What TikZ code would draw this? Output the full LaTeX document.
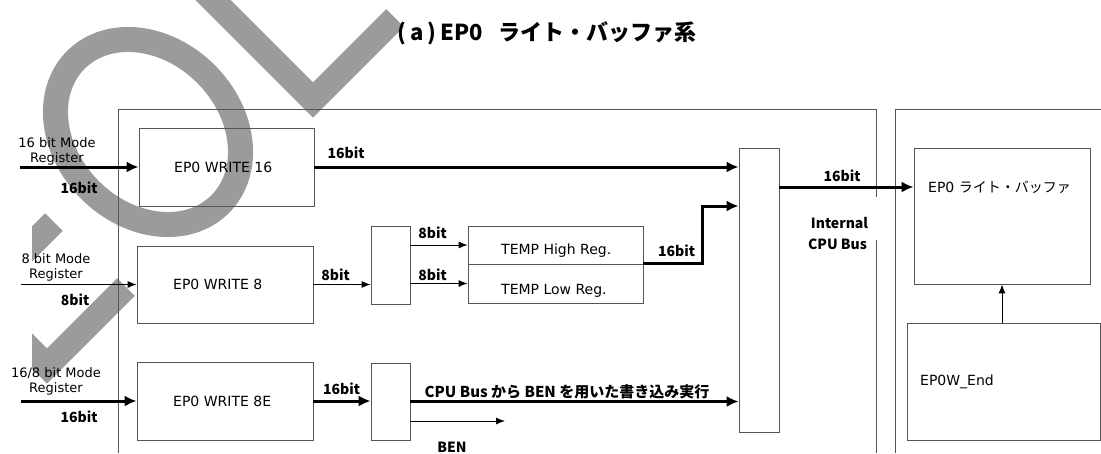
\documentclass[tikz,border=0pt]{standalone}
\usepackage{fontspec}
\setmainfont{Noto Sans CJK JP}
\newfontfamily\lat{DejaVu Sans}
\usetikzlibrary{arrows.meta,calc}
\definecolor{wmgray}{RGB}{155,155,155}
\definecolor{framegray}{RGB}{85,85,85}
\tikzset{
  box/.style={draw=framegray, line width=0.8pt, inner sep=0pt},
  arrthin/.style={line width=0.9pt, -{Latex[length=9pt,width=7pt]}},
  arrthick/.style={line width=3pt, -{Latex[length=12pt,width=11pt]}},
  lbl/.style={font=\bfseries\fontsize{14}{14}\selectfont, inner sep=0pt},
  txt/.style={font=\lat\fontsize{14}{16}\selectfont, inner sep=0pt},
  modetxt/.style={font=\lat\fontsize{13}{15}\selectfont, inner sep=0pt, align=center},
  frame/.style={draw=framegray, line width=0.8pt},
  wm/.style={draw=wmgray, line width=25pt},
}
\begin{document}
\begin{tikzpicture}[x=1pt,y=-1pt]
\useasboundingbox (0,0) rectangle (1101,453);
% watermark
\begin{scope}
  \clip (32,0) rectangle (1101,453);
  \draw[wm, rotate around={-45:(148,132)}] (148,132) ellipse [x radius=102pt, y radius=82pt];
  \draw[wm, miter limit=10] (200,-13) -- (313,100) -- (395,18);
  \draw[wm] (54,222) -- (20,256);
  \draw[wm, miter limit=10] (15,334) -- (47,366) -- (126,287);
\end{scope}
% title
\node[font=\bfseries\fontsize{22}{22}\selectfont, inner sep=0pt] (title) at (547,33)
  {(\hspace{4pt}a\hspace{4pt})\hspace{4pt}EP0\hspace{16pt}ライト・バッファ系};
% outer frames
\draw[frame] (118,453) -- (118,109) -- (876,109) -- (876,197);
\draw[frame] (876,240) -- (876,453);
\draw[frame] (895,453) -- (895,109) -- (1101,109);
% boxes
\node[box, minimum width=175pt, minimum height=78pt] (w16) at (226.5,167) {};
\node[box, minimum width=176pt, minimum height=77pt] (w8) at (225,284.5) {};
\node[box, minimum width=176pt, minimum height=78pt] (w8e) at (225,401) {};
\node[box, minimum width=39pt, minimum height=78pt] (s8) at (390.5,265) {};
\node[box, minimum width=39pt, minimum height=77pt] (s8e) at (390.5,401.5) {};
\node[box, minimum width=175pt, minimum height=38pt] (th) at (555.5,245) {};
\node[box, minimum width=175pt, minimum height=39pt] (tl) at (555.5,283.5) {};
\node[box, minimum width=40pt, minimum height=284pt] (mux) at (759,290) {};
\node[box, minimum width=176pt, minimum height=136pt] (buf) at (1002,216) {};
\node[box, minimum width=193pt, minimum height=117pt] (endb) at (1003.5,381.5) {};
% box texts
\node[txt, anchor=west] (tw16) at (174,167) {EP0 WRITE 16};
\node[txt, anchor=west] (tw8) at (173,284.5) {EP0 WRITE 8};
\node[txt, anchor=west] (tw8e) at (173,401) {EP0 WRITE 8E};
\node[txt, anchor=west] (tth) at (501,251) {TEMP High Reg.};
\node[txt, anchor=west] (ttl) at (501,291) {TEMP Low Reg.};
\node[txt, anchor=west] (tbuf) at (928,187) {EP0 {\rmfamily ライト・バッファ}};
\node[txt, anchor=west] (tend) at (920,382) {EP0W\_End};
% mode labels
\node[modetxt] (m16) at (57,151.5) {16 bit Mode\\Register};
\node[modetxt] (m8) at (56,267) {8 bit Mode\\Register};
\node[modetxt] (m8e) at (56,381) {16/8 bit Mode\\Register};
% input coordinates
\coordinate (in16) at (20,167);
\coordinate (in8) at (21,284.5);
\coordinate (in8e) at (21,401);
\coordinate (bend) at (702,206);
\coordinate (benend) at (505,421);
% connectors
\draw[arrthick] (in16) -- (w16.west);
\draw[arrthin] (in8) -- (w8.west);
\draw[arrthick] (in8e) -- (w8e.west);
\draw[arrthick] (w16.east) -- (w16.east -| mux.west);
\draw[arrthin] (w8.east) -- (w8.east -| s8.west);
\draw[arrthin] (s8.east |- th.west) -- (th.west);
\draw[arrthin] (s8.east |- tl.west) -- (tl.west);
\draw[arrthick] (tl.north east) -| (bend) -- (bend -| mux.west);
\draw[arrthick] (w8e.east) -- (w8e.east -| s8e.west);
\draw[arrthick] (s8e.east) -- (s8e.east -| mux.west);
\draw[arrthin] (s8e.east |- benend) -- (benend);
\draw[arrthick] (mux.east |- 0,187) -- (buf.west |- 0,187);
\draw[arrthin] (buf.south |- endb.north) -- (buf.south);
% bit labels
\node[lbl] (l1) at (79,188) {16bit};
\node[lbl] (l2) at (75,300) {8bit};
\node[lbl] (l3) at (79,417) {16bit};
\node[lbl] (l4) at (346,153) {16bit};
\node[lbl] (l5) at (335.5,275) {8bit};
\node[lbl] (l6) at (432.5,233) {8bit};
\node[lbl] (l7) at (432.5,275) {8bit};
\node[lbl] (l8) at (676.5,251) {16bit};
\node[lbl] (l9) at (341.5,389) {16bit};
\node[lbl, font=\bfseries\fontsize{15}{15}\selectfont] (l10) at (567,392) {CPU Bus から BEN を用いた書き込み実行};
\node[lbl] (l11) at (452,447) {BEN};
\node[lbl] (l12) at (842,176) {16bit};
\node[lbl] (l13) at (839.5,223) {Internal};
\node[lbl] (l14) at (837.5,244) {CPU Bus};
\end{tikzpicture}
\end{document}
